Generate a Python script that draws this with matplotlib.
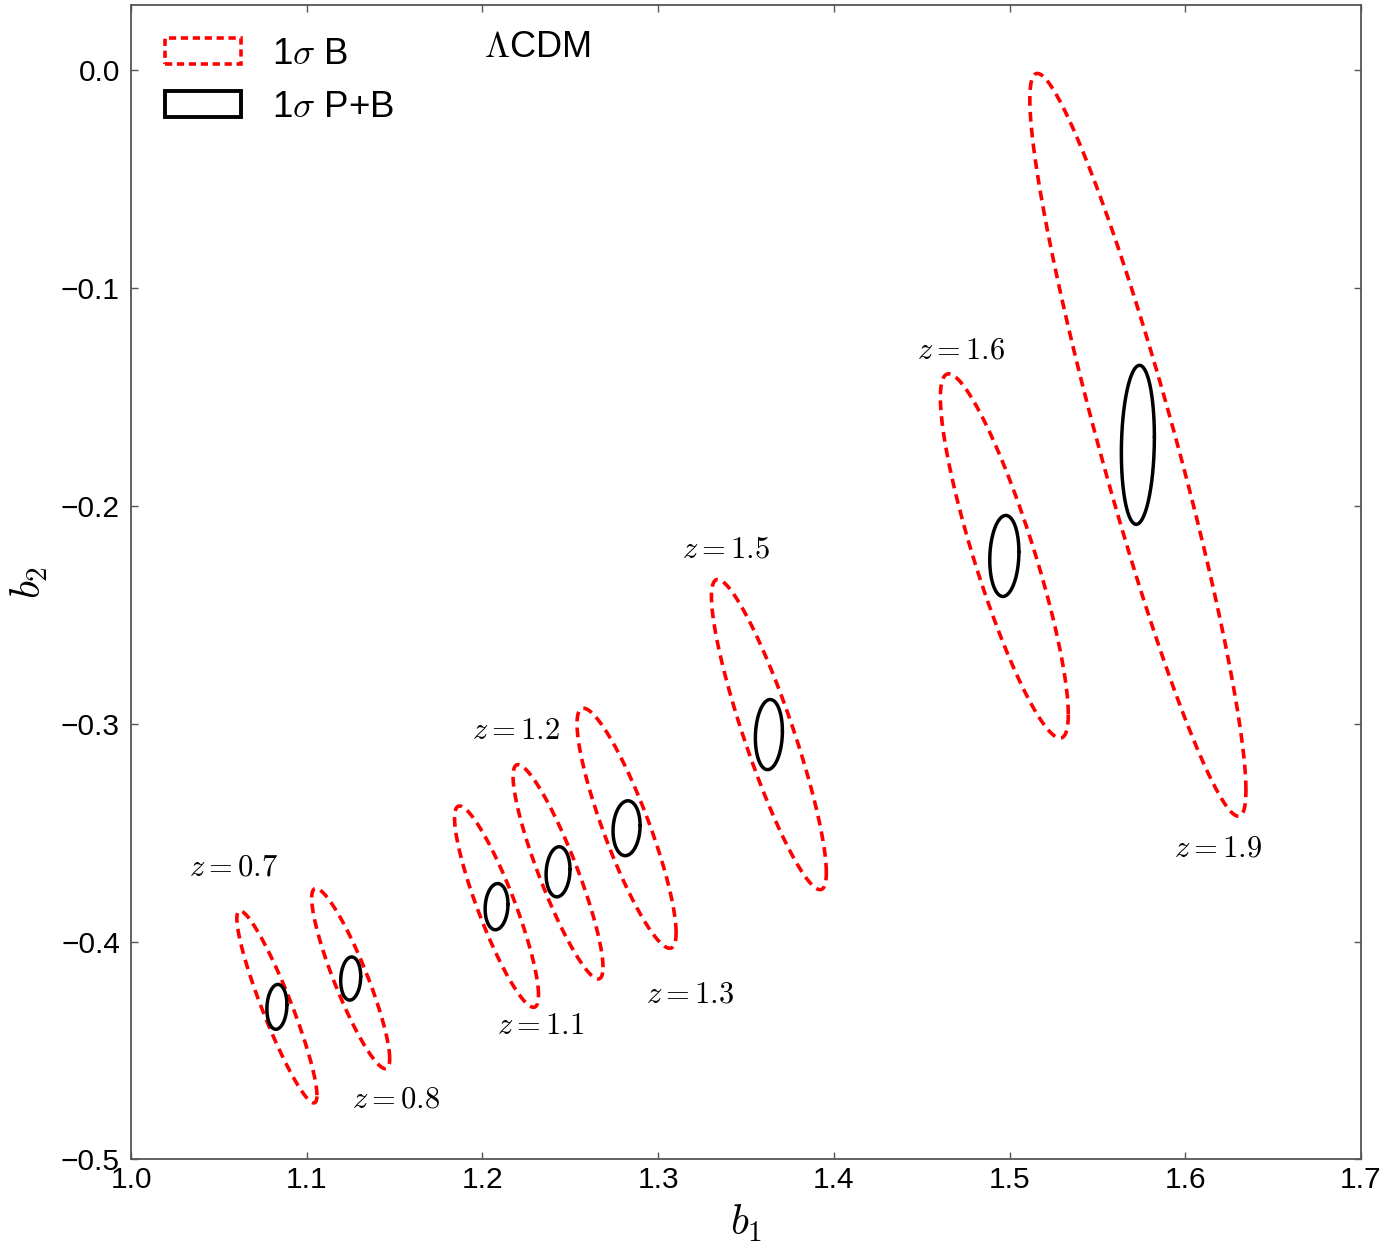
import numpy as np
import matplotlib
matplotlib.use("Agg")
import matplotlib.pyplot as plt
from matplotlib.patches import Patch

plt.rcParams['font.family'] = ['Liberation Sans', 'DejaVu Sans']
plt.rcParams['mathtext.fontset'] = 'cm'

# Fiducial bias values and 1-sigma extents per redshift bin
redshifts = ['0.7', '0.8', '1.1', '1.2', '1.3', '1.5', '1.6', '1.9']
b1_fid = [1.083, 1.125, 1.208, 1.243, 1.282, 1.363, 1.497, 1.573]
b2_fid = [-0.430, -0.417, -0.384, -0.368, -0.348, -0.305, -0.223, -0.172]

# Bispectrum only (B)
sig_b1_B = [0.0228, 0.0222, 0.0239, 0.0256, 0.0282, 0.0327, 0.0364, 0.0615]
sig_b2_B = [0.0441, 0.0414, 0.0462, 0.0492, 0.0551, 0.0712, 0.0836, 0.1705]
rho_B = [-0.92, -0.89, -0.88, -0.89, -0.87, -0.89, -0.87, -0.93]

# Power spectrum + bispectrum (P+B)
sig_b1_PB = [0.0057, 0.0057, 0.0065, 0.0068, 0.0077, 0.0077, 0.0083, 0.0094]
sig_b2_PB = [0.0103, 0.0099, 0.0106, 0.0115, 0.0126, 0.0161, 0.0186, 0.0365]
rho_PB = [0.10, 0.10, 0.10, 0.10, 0.10, 0.10, 0.10, 0.10]

# Where each redshift label sits (data coordinates)
label_x = [1.0586, 1.1508, 1.2333, 1.2191, 1.3181, 1.3386, 1.4724, 1.6186]
label_y = [-0.3658, -0.4724, -0.4389, -0.3033, -0.4242, -0.2201, -0.1287, -0.3575]


def ellipse_xy(cx, cy, sx, sy, rho, n=720):
    t = np.linspace(0, 2 * np.pi, n)
    x = cx + sx * np.cos(t)
    y = cy + sy * (rho * np.cos(t) + np.sqrt(1 - rho ** 2) * np.sin(t))
    return x, y


fig = plt.figure(figsize=(13.84, 12.47), dpi=100)
ax = fig.add_axes([0.0947, 0.0703, 0.8887, 0.9253])

red_style = dict(color='red', lw=2.6, linestyle=(0, (2.7, 1.7)))
black_style = dict(color='black', lw=2.5, solid_capstyle='round',
                   solid_joinstyle='round')

for i in range(len(redshifts)):
    x, y = ellipse_xy(b1_fid[i], b2_fid[i], sig_b1_B[i], sig_b2_B[i], rho_B[i])
    ax.plot(x, y, **red_style)
    x, y = ellipse_xy(b1_fid[i], b2_fid[i], sig_b1_PB[i], sig_b2_PB[i], rho_PB[i])
    ax.plot(x, y, **black_style)
    ax.text(label_x[i], label_y[i], r'$z=%s$' % redshifts[i], fontsize=22,
            ha='center', va='center')

ax.set_xlim(1.0, 1.7)
ax.set_ylim(-0.5, 0.0297)
ax.set_xticks([1.0, 1.1, 1.2, 1.3, 1.4, 1.5, 1.6, 1.7])
ax.set_yticks([-0.5, -0.4, -0.3, -0.2, -0.1, 0.0])
ax.set_xticklabels(['1.0', '1.1', '1.2', '1.3', '1.4', '1.5', '1.6', '1.7'])
ax.set_yticklabels(['\u22120.5', '\u22120.4', '\u22120.3', '\u22120.2', '\u22120.1', '0.0'])

spine_color = '#555555'
for s in ax.spines.values():
    s.set_color(spine_color)
    s.set_linewidth(1.3)
ax.tick_params(direction='in', top=True, right=True, length=5, width=1,
               color=spine_color, labelsize=21.5)
ax.tick_params(axis='x', pad=5)
ax.tick_params(axis='y', pad=8)

ax.set_xlabel(r'$b_1$', fontsize=30, labelpad=6)
ax.set_ylabel(r'$b_2$', fontsize=30, labelpad=8)

handles = [
    Patch(facecolor='none', edgecolor='red', lw=2.6, linestyle=(0, (2.0, 1.3))),
    Patch(facecolor='none', edgecolor='black', lw=2.8),
]
ax.legend(handles, [r'1$\sigma$ B', r'1$\sigma$ P+B'], loc='upper left',
          bbox_to_anchor=(0.0025, 1.0),
          frameon=False, fontsize=26.5, handlelength=2.05, handleheight=0.72,
          handletextpad=0.85, labelspacing=0.5, borderaxespad=0.35,
          borderpad=0.5)

ax.text(0.287, 0.964, r'$\Lambda$CDM', transform=ax.transAxes, fontsize=26,
        ha='left', va='center')

fig.savefig('out.png', dpi=100)
